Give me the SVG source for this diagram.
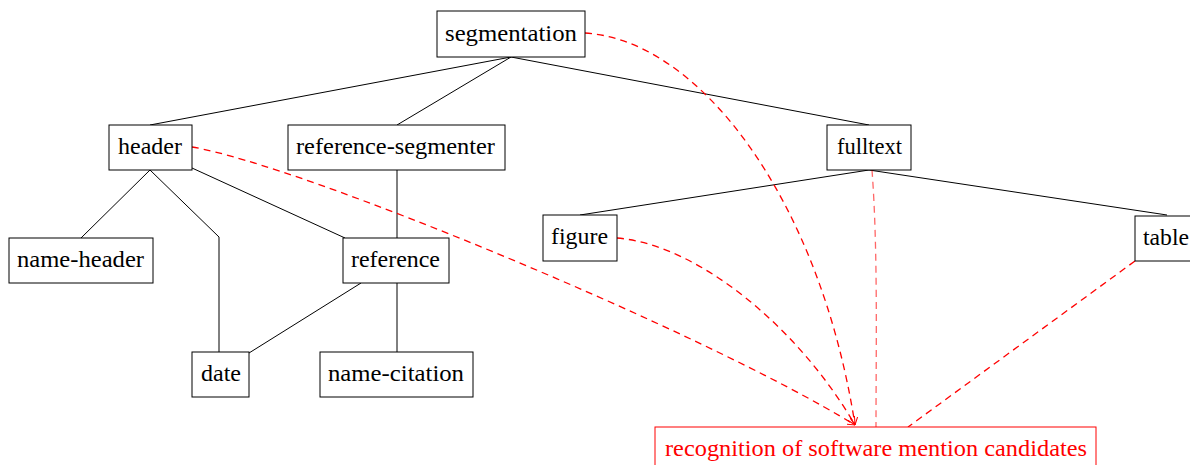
<svg xmlns="http://www.w3.org/2000/svg" width="1190" height="465" viewBox="0 0 1190 465">
<defs>
<style>
.box{fill:#fff;stroke:#000;stroke-width:1}
text{font-size:23px;text-anchor:middle}
.t{fill:#000}
.edge{fill:none;stroke:#000;stroke-width:1}
.red{fill:none;stroke:#f00;stroke-width:1.3;stroke-dasharray:7 5}
.redbox{fill:#fff;stroke:#f00;stroke-width:1}
.rt{fill:#f00}
</style>
<marker id="arr" viewBox="0 0 10 10" refX="10" refY="5" markerWidth="8" markerHeight="8" markerUnits="userSpaceOnUse" orient="auto">
<path d="M0,0 L10,5 L0,10" fill="none" stroke="#f00" stroke-width="1.3"/>
</marker>
</defs>
<rect width="1190" height="465" fill="#fff"/>
<g id="connectors">
<path class="edge" d="M511,57 L150,125"/>
<path class="edge" d="M511,57 L397,125"/>
<path class="edge" d="M511,57 L869,125"/>
<path class="edge" d="M150,170 L81,238"/>
<path class="edge" d="M150,170 L219,237 L219,352"/>
<path class="edge" d="M192,168 L345,238"/>
<path class="edge" d="M397,170 L397,238"/>
<path class="edge" d="M397,283 L397,352"/>
<path class="edge" d="M361,283 L249,353"/>
<path class="edge" d="M869,170 L580,215"/>
<path class="edge" d="M869,170 L1167,215"/>
<path class="red" d="M585,33 C700,40 820,200 855,425" marker-end="url(#arr)"/>
<path class="red" d="M192,147 C300,165 700,330 855,425" marker-end="url(#arr)"/>
<path class="red" d="M617,238 C700,245 800,330 855,425" marker-end="url(#arr)"/>
<path class="red" d="M872,170 C878,250 876,350 876,427" stroke-opacity="0.6"/>
<path class="red" d="M1135,261 L908,427"/>
</g>
<g font-family="Liberation Serif, serif">
<g id="segmentation"><rect class="box" x="437" y="11" width="148" height="46"/><text class="t" x="511" y="41" textLength="132" lengthAdjust="spacingAndGlyphs">segmentation</text></g>
<g id="header"><rect class="box" x="109" y="125" width="83" height="45"/><text class="t" x="150" y="154" textLength="64" lengthAdjust="spacingAndGlyphs">header</text></g>
<g id="reference-segmenter"><rect class="box" x="288" y="125" width="217" height="45"/><text class="t" x="395.5" y="154" textLength="199" lengthAdjust="spacingAndGlyphs">reference-segmenter</text></g>
<g id="fulltext"><rect class="box" x="827" y="125" width="84" height="45"/><text class="t" x="869.5" y="154" textLength="65" lengthAdjust="spacingAndGlyphs">fulltext</text></g>
<g id="name-header"><rect class="box" x="9" y="238" width="144" height="45"/><text class="t" x="80.5" y="267" textLength="127" lengthAdjust="spacingAndGlyphs">name-header</text></g>
<g id="reference"><rect class="box" x="343" y="238" width="106" height="45"/><text class="t" x="395.5" y="267" textLength="89" lengthAdjust="spacingAndGlyphs">reference</text></g>
<g id="figure"><rect class="box" x="543" y="215" width="74" height="46"/><text class="t" x="579.5" y="244" textLength="57" lengthAdjust="spacingAndGlyphs">figure</text></g>
<g id="table"><rect class="box" x="1135" y="216" width="80" height="45"/><text class="t" x="1166" y="245" textLength="46" lengthAdjust="spacingAndGlyphs">table</text></g>
<g id="date"><rect class="box" x="192" y="352" width="57" height="45"/><text class="t" x="221" y="381" textLength="40" lengthAdjust="spacingAndGlyphs">date</text></g>
<g id="name-citation"><rect class="box" x="320" y="352" width="153" height="45"/><text class="t" x="396" y="381" textLength="136" lengthAdjust="spacingAndGlyphs">name-citation</text></g>
<g id="recognition"><rect class="redbox" x="655" y="427" width="441" height="50"/><text class="rt" x="876" y="456" textLength="422" lengthAdjust="spacingAndGlyphs">recognition of software mention candidates</text></g>
</g>
</svg>
